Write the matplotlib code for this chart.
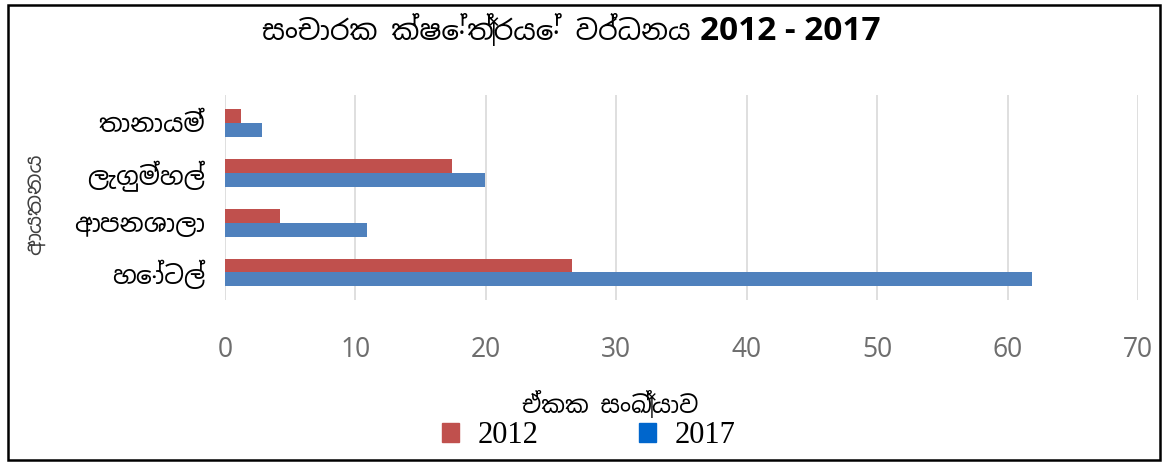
import matplotlib
matplotlib.use("Agg")
import matplotlib.pyplot as plt
import numpy as np
from matplotlib.patches import Rectangle, Patch

categories = ["හෝටල්", "ආපනශාලා", "ලැගුම්හල්", "තානායම්"]
values_2012 = [26.6, 4.2, 17.4, 1.2]
values_2017 = [61.9, 10.9, 19.9, 2.8]
series_names = ["2012", "2017"]
xticks = [0, 10, 20, 30, 40, 50, 60, 70]
title_main = "සංචාරක ක්ෂේත්‍රයේ වර්ධනය"
title_years = "2012 - 2017"
xlabel = "ඒකක සංඛ්‍යාව"
ylabel = "ආයතනය"

plt.rcParams['font.family'] = ['Noto Sans Sinhala', 'Noto Sans', 'DejaVu Sans']

fig = plt.figure(figsize=(11.66, 4.65), dpi=100)
ax = fig.add_axes([0.193, 0.355, 0.783, 0.44])

y = np.arange(len(categories))
h = 0.28
ax.barh(y + h/2, values_2012, height=h, color="#C0504D")
ax.barh(y - h/2, values_2017, height=h, color="#4F81BD")

ax.set_xlim(0, 70)
ax.set_ylim(-0.55, 3.55)
ax.set_xticks(xticks)
ax.set_xticklabels([str(t) for t in xticks], color="#6E6E6E", fontsize=19)
ax.set_yticks(y)
ax.set_yticklabels(categories, fontsize=18, color="black")
ax.tick_params(axis='x', length=0, pad=26)
ax.tick_params(axis='y', length=0, pad=14)
ax.grid(axis='x', color="#D9D9D9", linewidth=1.2)
ax.set_axisbelow(True)
for s in ax.spines.values():
    s.set_visible(False)

fig.text(0.592, 0.935, title_main, ha="right", va="center", fontsize=20)
fig.text(0.600, 0.932, title_years, ha="left", va="center", fontsize=24,
         fontweight="bold", family=['Open Sans', 'DejaVu Sans'])
fig.text(0.030, 0.56, ylabel, rotation=90, ha="center", va="center", fontsize=16, color="#404040")
fig.text(0.523, 0.128, xlabel, ha="center", va="center", fontsize=17)

handles = [Patch(color="#C0504D"), Patch(color="#0066CC")]
fig.legend(handles, series_names, loc="center", bbox_to_anchor=(0.505, 0.063), ncol=2,
           frameon=False, prop={'family': 'Liberation Serif', 'size': 22},
           handlelength=0.55, handleheight=0.55, columnspacing=3.3, handletextpad=0.6)

fig.patches.append(Rectangle((0.007, 0.01), 0.988, 0.98, transform=fig.transFigure,
                             fill=False, edgecolor="black", linewidth=1.8))

fig.savefig("out.png", dpi=100)
